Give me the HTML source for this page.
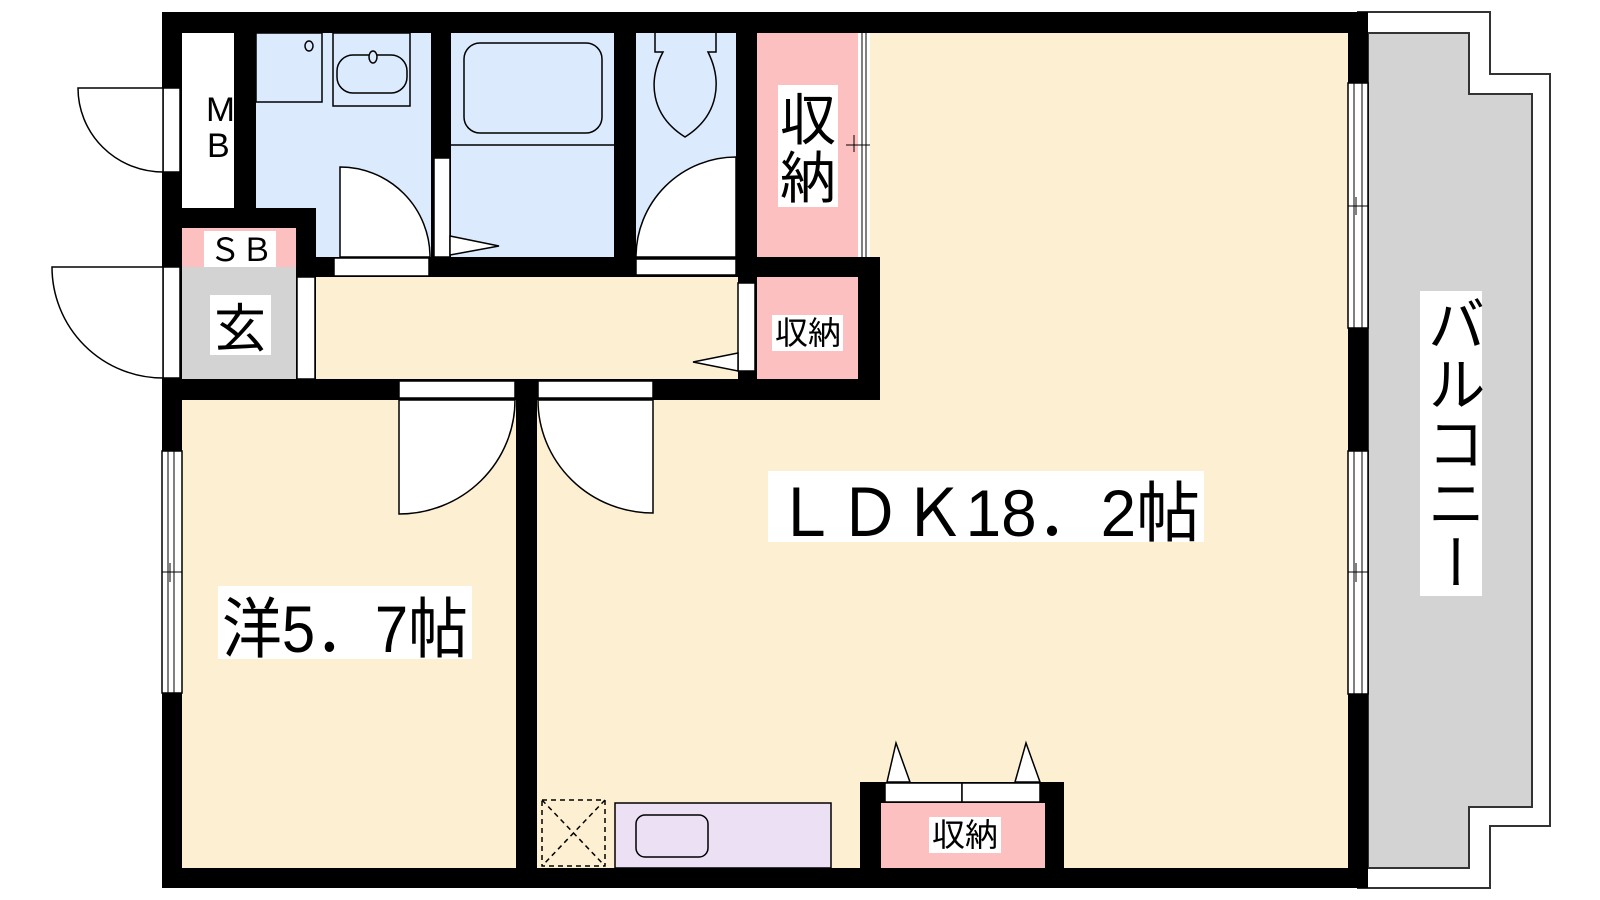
<!DOCTYPE html>
<html><head><meta charset="utf-8"><style>
html,body{margin:0;padding:0;background:#fff;}
svg{display:block;}
text{font-family:"Liberation Sans","Noto Sans CJK JP",sans-serif;fill:#000;}
</style></head><body>
<svg width="1600" height="900" viewBox="0 0 1600 900" xmlns="http://www.w3.org/2000/svg">
<path d="M1358 12 H1490 V74 H1550 V826 H1490 V888 H1358 Z" fill="#fff" stroke="#333" stroke-width="2"/>
<path d="M1368 33 H1469 V94 H1532 V807 H1469 V868 H1368 Z" fill="#d3d3d3" stroke="#333" stroke-width="2"/>
<rect x="162" y="12" width="1206" height="876" fill="#000"/>
<rect x="182" y="33" width="52" height="175" fill="#fff"/>
<rect x="256" y="33" width="175" height="224" fill="#dbeafd"/>
<rect x="162" y="208" width="154" height="20" fill="#000"/>
<rect x="296" y="208" width="20" height="69" fill="#000"/>
<rect x="451" y="33" width="163" height="224" fill="#dbeafd"/>
<rect x="636" y="33" width="100" height="224" fill="#dbeafd"/>
<rect x="757" y="33" width="101" height="224" fill="#fdc0c0"/>
<rect x="858" y="33" width="12" height="224" fill="#fff"/>
<line x1="862" y1="33" x2="862" y2="257" stroke="#000" stroke-width="1"/>
<line x1="866" y1="33" x2="866" y2="257" stroke="#000" stroke-width="1"/>
<line x1="846" y1="145" x2="870" y2="145" stroke="#000" stroke-width="1"/>
<line x1="854" y1="135" x2="854" y2="152" stroke="#000" stroke-width="1"/>
<rect x="182" y="228" width="114" height="39" fill="#fdc0c0"/>
<rect x="182" y="267" width="114" height="112" fill="#d3d3d3"/>
<rect x="316" y="277" width="422" height="102" fill="#fdf0d2"/>
<rect x="757" y="277" width="101" height="102" fill="#fdc0c0"/>
<rect x="880" y="33" width="468" height="367" fill="#fdf0d2"/>
<rect x="870" y="33" width="10" height="224" fill="#fdf0d2"/>
<rect x="537" y="400" width="811" height="468" fill="#fdf0d2"/>
<rect x="182" y="400" width="334" height="468" fill="#fdf0d2"/>
<g fill="#fff" stroke="#000" stroke-width="1.5">
<rect x="297" y="277" width="18" height="102"/>
<rect x="738" y="283" width="17" height="88"/>
<rect x="334" y="258" width="95" height="18"/>
<rect x="636" y="259" width="100" height="16"/>
<rect x="434" y="158" width="16" height="99"/>
<rect x="399" y="381" width="116" height="17"/>
<rect x="538" y="381" width="115" height="17"/>
<rect x="163" y="88" width="17" height="84"/>
<rect x="163" y="267" width="17" height="111"/>
<rect x="162" y="451" width="20" height="242"/>
<rect x="1348" y="83" width="20" height="245"/>
<rect x="1348" y="451" width="20" height="243"/>
</g>
<g stroke="#000" stroke-width="1" fill="none">
<line x1="168" y1="451" x2="168" y2="693"/><line x1="174" y1="451" x2="174" y2="693"/>
<line x1="162" y1="572" x2="182" y2="572"/><line x1="170" y1="563" x2="170" y2="582"/>
<line x1="1354" y1="83" x2="1354" y2="328"/><line x1="1362" y1="83" x2="1362" y2="328"/>
<line x1="1348" y1="206" x2="1368" y2="206"/><line x1="1356" y1="197" x2="1356" y2="215"/>
<line x1="1354" y1="451" x2="1354" y2="694"/><line x1="1362" y1="451" x2="1362" y2="694"/>
<line x1="1348" y1="572" x2="1368" y2="572"/><line x1="1356" y1="563" x2="1356" y2="582"/>
</g>
<g fill="#fff" stroke="#000" stroke-width="1.5">
<path d="M163 88 H78 A85 84 0 0 0 163 172 Z"/>
<path d="M163 267 H52 A111 111 0 0 0 163 378 Z"/>
<path d="M340 257 V167 A90 90 0 0 1 430 257 Z"/>
<path d="M736 257 V157 A100 100 0 0 0 636 257 Z"/>
<path d="M399 400 V514 A116 114 0 0 0 515 400 Z"/>
<path d="M653 400 V513 A115 113 0 0 1 538 400 Z"/>
<path d="M450 236 L499 246 L450 255 Z"/>
<path d="M738 353 L693 362 L738 371 Z"/>
</g>
<g fill="none" stroke="#000" stroke-width="1.5">
<rect x="256" y="33" width="66" height="69"/>
<ellipse cx="309" cy="46" rx="4" ry="5"/>
<rect x="333" y="33" width="77" height="73"/>
<rect x="337" y="55" width="70" height="38" rx="16"/>
<ellipse cx="373" cy="57" rx="4" ry="6" fill="#dbeafd"/>
<line x1="451" y1="145" x2="614" y2="145"/>
<rect x="464" y="43" width="138" height="90" rx="16"/>
<path d="M655 33 V52 H663 C648 80 650 115 685 137 C720 115 722 80 708 52 H716 V33"/>
<rect x="542" y="800" width="63" height="66" stroke-dasharray="5,4"/>
<path d="M542 800 L605 866 M605 800 L542 866" stroke-dasharray="5,4"/>
</g>
<rect x="615" y="803" width="216" height="65" fill="#ece0f5" stroke="#000" stroke-width="1.5"/>
<rect x="636" y="815" width="72" height="42" rx="9" fill="none" stroke="#000" stroke-width="1.5"/>
<rect x="860" y="782" width="204" height="86" fill="#000"/>
<rect x="881" y="803" width="164" height="65" fill="#fdc0c0"/>
<g fill="#fff" stroke="#000" stroke-width="1.5">
<rect x="885" y="783" width="77" height="19"/>
<rect x="962" y="783" width="78" height="19"/>
<path d="M887 782 L896 743 L910 782 Z"/>
<path d="M1015 782 L1026 743 L1040 782 Z"/>
</g>
<g fill="#fff">
<rect x="778" y="85" width="60" height="122"/>
<rect x="772" y="315" width="71" height="36"/>
<rect x="929" y="817" width="72" height="36"/>
<rect x="204" y="231" width="72" height="36"/>
<rect x="210" y="295" width="61" height="60"/>
<rect x="218" y="586" width="254" height="73"/>
<rect x="768" y="471" width="436" height="71"/>
<rect x="1420" y="291" width="62" height="305"/>
</g>
<text x="206" y="121" font-size="34" textLength="29" lengthAdjust="spacingAndGlyphs">M</text>
<text x="207" y="157" font-size="34">B</text>
<text x="209" y="261" font-size="32" textLength="64" lengthAdjust="spacing">ＳＢ</text>
<text x="214" y="347" font-size="52">玄</text>
<text x="780" y="140" font-size="56">収</text>
<text x="780" y="198" font-size="56">納</text>
<text x="775" y="344" font-size="32" textLength="66" lengthAdjust="spacingAndGlyphs">収納</text>
<text x="932" y="846" font-size="32" textLength="66" lengthAdjust="spacingAndGlyphs">収納</text>
<text x="222" y="652" font-size="66" textLength="246" lengthAdjust="spacingAndGlyphs">洋5．7帖</text>
<text x="774" y="536" font-size="66" textLength="426" lengthAdjust="spacingAndGlyphs">ＬＤＫ18．2帖</text>
<text x="1451" y="294" font-size="58" style="writing-mode:vertical-rl;" textLength="298" lengthAdjust="spacingAndGlyphs">バルコニー</text>
</svg>
</body></html>
